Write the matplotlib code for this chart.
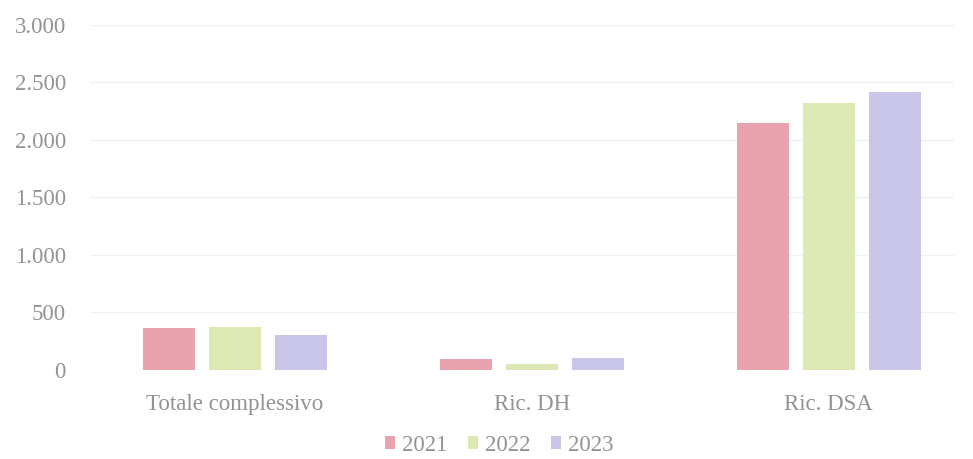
import matplotlib.pyplot as plt
import numpy as np

categorie = ["Totale complessivo", "Ric. DH", "Ric. DSA"]
anni = ["2021", "2022", "2023"]
val_2021 = [365, 95, 2150]
val_2022 = [375, 50, 2320]
val_2023 = [300, 105, 2420]
colori = ["#E9A3AE", "#DCE9B5", "#C9C6EA"]

plt.rcParams['font.family'] = ['Liberation Serif', 'DejaVu Serif']

fig = plt.figure(figsize=(9.73, 4.59), dpi=100)
ax = fig.add_axes([0.092, 0.194, 0.888, 0.752])

x = np.arange(len(categorie))
larghezza = 0.175
passo = 0.223
serie = [val_2021, val_2022, val_2023]
for i, (anno, valori) in enumerate(zip(anni, serie)):
    ax.bar(x + (i - 1) * passo, valori, larghezza, color=colori[i], label=anno, zorder=3)

ax.set_xlim(-0.49, 2.42)
ax.set_ylim(0, 3000)
ax.set_yticks(range(0, 3001, 500))
ax.set_yticklabels(["0", "500", "1.000", "1.500", "2.000", "2.500", "3.000"])
ax.set_xticks(x)
ax.set_xticklabels(categorie)

ax.grid(axis='y', color='#f0f0f0', linewidth=1, zorder=0)
for s in ax.spines.values():
    s.set_visible(False)
ax.tick_params(axis='both', length=0, labelsize=16.5, labelcolor='#939393')
ax.tick_params(axis='x', pad=17)
ax.tick_params(axis='y', pad=17)

fig.legend(loc='center', bbox_to_anchor=(0.513, 0.03), ncol=3, frameon=False,
           fontsize=16.5, labelcolor='#939393', handlelength=0.45, handleheight=0.45,
           handletextpad=0.3, columnspacing=0.9, borderpad=0.1)

fig.savefig("out.png", dpi=100)
